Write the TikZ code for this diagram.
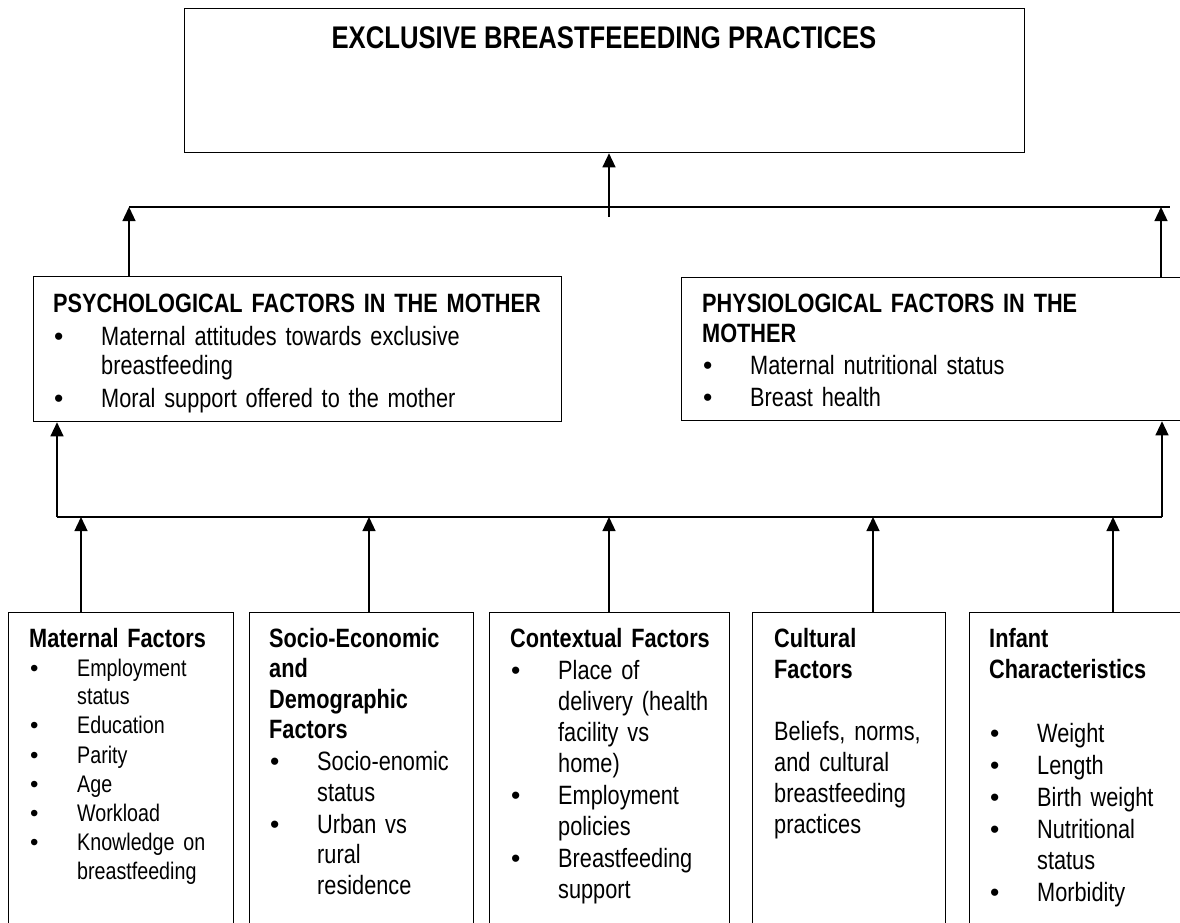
\documentclass[tikz,border=0pt]{standalone}
\usepackage{fontspec}
\setmainfont{Liberation Sans}[FakeStretch=0.82]
\newfontfamily\bulletfont{Liberation Sans}
\usetikzlibrary{arrows.meta}
\newcommand{\bitem}[2][48pt]{\par\hangindent=#1\hangafter=1\noindent\makebox[#1][l]{\hspace{1pt}{\bulletfont\textbullet}}#2}
\begin{document}
\begin{tikzpicture}[x=1pt,y=-1pt,
  box/.style={draw, line width=1.3pt, rectangle, inner sep=0pt, anchor=north west},
  arr/.style={-{Triangle[length=14pt,width=13pt]}, line width=1.3pt},
  ln/.style={line width=1.3pt},
  txt/.style={anchor=base west, inner sep=0pt, align=left, text width=#1}]
\useasboundingbox (0,0) rectangle (1180,922);
\clip (0,0) rectangle (1180,922);

% boxes
\node[box, minimum width=840pt, minimum height=144pt] (top) at (184,8) {};
\node[box, minimum width=528pt, minimum height=145pt] (psy) at (33,276) {};
\node[box, minimum width=520pt, minimum height=143pt] (phy) at (681,277) {};
\node[box, minimum width=225pt, minimum height=340pt] (b1) at (8,612) {};
\node[box, minimum width=224pt, minimum height=340pt] (b2) at (249,612) {};
\node[box, minimum width=240pt, minimum height=340pt] (b3) at (489,612) {};
\node[box, minimum width=193pt, minimum height=340pt] (b4) at (752,612) {};
\node[box, minimum width=240pt, minimum height=340pt] (b5) at (969,612) {};

% texts
\node[anchor=base, inner sep=0pt, font=\fontsize{31.3}{36}\selectfont\bfseries] (ttl) at (604,48) {EXCLUSIVE BREASTFEEEDING PRACTICES};

\node[txt=520pt, font=\fontsize{26.5}{29}\selectfont] (psyt) at (53,312)
 {\setlength{\parskip}{4pt}\textbf{PSYCHOLOGICAL FACTORS IN THE MOTHER}%
  \bitem{Maternal attitudes towards exclusive\newline breastfeeding}%
  \bitem{Moral support offered to the mother}\par};

\node[txt=480pt, font=\fontsize{26.5}{30}\selectfont] (phyt) at (702,312)
 {\setlength{\parskip}{2pt}\textbf{PHYSIOLOGICAL FACTORS IN THE\\MOTHER}%
  \bitem{Maternal nutritional status}%
  \bitem{Breast health}\par};

\node[txt=300pt, font=\fontsize{26.5}{30.5}\selectfont] (b1t) at (29,647)
 {\setlength{\parskip}{0.7pt}\textbf{Maternal Factors}\par\fontsize{24}{28.5}\selectfont
  \bitem{Employment\newline status}%
  \bitem{Education}%
  \bitem{Parity}%
  \bitem{Age}%
  \bitem{Workload}%
  \bitem{Knowledge on\newline breastfeeding}\par};

\node[txt=300pt, font=\fontsize{26.5}{30.5}\selectfont] (b2t) at (269,647)
 {\setlength{\parskip}{1.5pt}\textbf{Socio-Economic\\and\\Demographic\\Factors}%
  \bitem{Socio-enomic\newline status}%
  \bitem{Urban vs\newline rural\newline residence}\par};

\node[txt=300pt, font=\fontsize{26.5}{31}\selectfont] (b3t) at (510,647)
 {\setlength{\parskip}{1pt}\textbf{Contextual Factors}%
  \bitem{Place of\newline delivery (health\newline facility vs\newline home)}%
  \bitem{Employment\newline policies}%
  \bitem{Breastfeeding\newline support}\par};

\node[txt=300pt, font=\fontsize{26.5}{31}\selectfont] (b4t) at (774,647)
 {\textbf{Cultural\\Factors}\par\mbox{}\par
  Beliefs, norms,\\and cultural\\breastfeeding\\practices\par};

\node[txt=300pt, font=\fontsize{26.5}{31}\selectfont] (b5t) at (989,647)
 {\setlength{\parskip}{1pt}\textbf{Infant\\Characteristics}\par\mbox{}%
  \bitem{Weight}%
  \bitem{Length}%
  \bitem{Birth weight}%
  \bitem{Nutritional\newline status}%
  \bitem{Morbidity}\par};

% connector points
\coordinate (tj) at (609,217);
\coordinate (ul) at (129,207);
\coordinate (ue) at (1170,207);
\coordinate (ur) at (1161,207);
\coordinate (ll) at (57,517);
\coordinate (lr) at (1162,517);
\coordinate (j1) at (81,517);
\coordinate (j2) at (369,517);
\coordinate (j3) at (609,517);
\coordinate (j4) at (873,517);
\coordinate (j5) at (1113,517);

% connectors
\draw[ln] (ul) -- (ue);
\draw[arr] (tj) -- (tj |- top.south);
\draw[arr] (psy.north -| ul) -- (ul);
\draw[arr] (phy.north -| ur) -- (ur);
\draw[ln] (ll) -- (lr);
\draw[arr] (ll) -- (ll |- psy.south);
\draw[arr] (lr) -- (lr |- phy.south);
\draw[arr] (b1.north -| j1) -- (j1);
\draw[arr] (b2.north -| j2) -- (j2);
\draw[arr] (b3.north -| j3) -- (j3);
\draw[arr] (b4.north -| j4) -- (j4);
\draw[arr] (b5.north -| j5) -- (j5);
\end{tikzpicture}
\end{document}
